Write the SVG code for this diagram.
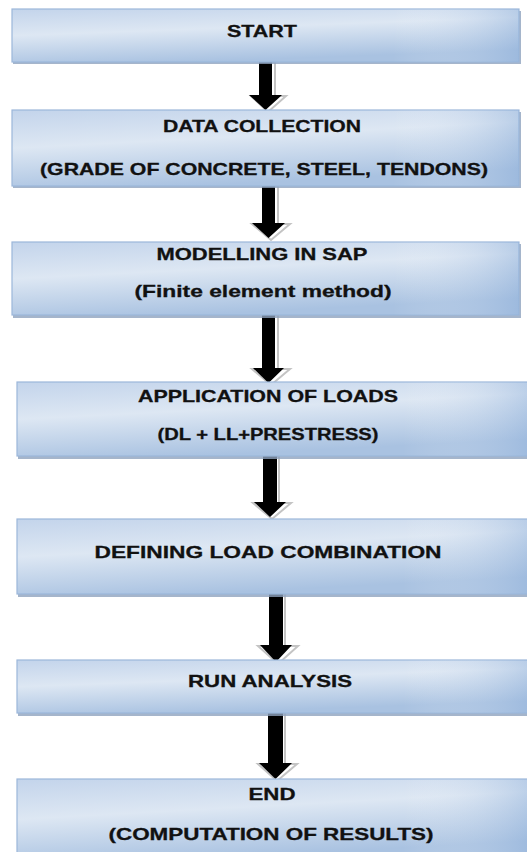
<svg xmlns="http://www.w3.org/2000/svg" width="527" height="852" viewBox="0 0 527 852">
<defs>
<linearGradient id="boxfill" x1="0" y1="0" x2="0.35" y2="1">
<stop offset="0" stop-color="#c3d4eb"/>
<stop offset="0.45" stop-color="#dde7f3"/>
<stop offset="1" stop-color="#a9c2e1"/>
</linearGradient>
<linearGradient id="sheen" x1="0" y1="0" x2="1" y2="0">
<stop offset="0" stop-color="#ffffff" stop-opacity="0"/>
<stop offset="0.75" stop-color="#ffffff" stop-opacity="0"/>
<stop offset="1" stop-color="#8fb0da" stop-opacity="0.45"/>
</linearGradient>
</defs>
<style>
.shadow{fill:#8ea3be;opacity:0.8}
.box{fill:url(#boxfill);stroke:#9cb7da;stroke-width:1.2}
.sheen{fill:url(#sheen)}
.t{font-family:"Liberation Sans",Arial,sans-serif;font-weight:bold;font-size:16.5px;fill:#111111;stroke:#111111;stroke-width:0.3;text-anchor:middle}
.aout{fill:#ffffff;stroke:#c4c4c4;stroke-width:2}
.arr{fill:#000000}
</style>
<rect width="527" height="852" fill="#ffffff"/>

<g id="connectors">
<g id="a1">
<path class="aout" d="M261,62 L275,62 L275,96 L286,96 L268,112 L251,96 L261,96 Z"/>
<path class="arr" d="M259,62 L272,62 L272,95 L282,95 L265.5,110 L249,95 L259,95 Z"/>
</g>
<g id="a2">
<path class="aout" d="M264,186 L278,186 L278,224 L290,224 L271,240 L252,224 L264,224 Z"/>
<path class="arr" d="M262,186 L275,186 L275,223 L285,223 L268.5,238 L252,223 L262,223 Z"/>
</g>
<g id="a3">
<path class="aout" d="M264,315 L278,315 L278,369 L290,369 L271,385 L252,369 L264,369 Z"/>
<path class="arr" d="M262,315 L275,315 L275,368 L284,368 L268.5,383 L253,368 L262,368 Z"/>
</g>
<g id="a4">
<path class="aout" d="M265,456 L279,456 L279,503 L291,503 L272,519 L253,503 L265,503 Z"/>
<path class="arr" d="M263,456 L277,456 L277,502 L286,502 L270,517 L254,502 L263,502 Z"/>
</g>
<g id="a5">
<path class="aout" d="M271,594 L285,594 L285,646 L298,646 L278,664 L258,646 L271,646 Z"/>
<path class="arr" d="M269,594 L283,594 L283,645 L292,645 L276,662 L260,645 L269,645 Z"/>
</g>
<g id="a6">
<path class="aout" d="M270,713 L285,713 L285,764 L297,764 L277,781 L258,764 L270,764 Z"/>
<path class="arr" d="M268,713 L283,713 L283,763 L292,763 L275.5,779 L259,763 L268,763 Z"/>
</g>
</g>

<g id="n1">
<rect class="shadow" x="13" y="11" width="508" height="53"/>
<rect class="box" x="12" y="9" width="507" height="53"/>
<rect class="sheen" x="12" y="9" width="507" height="53"/>
<text class="t" x="262" y="37" textLength="70" lengthAdjust="spacingAndGlyphs">START</text>
</g>

<g id="n2">
<rect class="shadow" x="13" y="112" width="508" height="76"/>
<rect class="box" x="12" y="110" width="507" height="76"/>
<rect class="sheen" x="12" y="110" width="507" height="76"/>
<text class="t" x="262" y="132" textLength="198" lengthAdjust="spacingAndGlyphs">DATA COLLECTION</text>
<text class="t" x="264" y="175" textLength="448" lengthAdjust="spacingAndGlyphs">(GRADE OF CONCRETE, STEEL, TENDONS)</text>
</g>

<g id="n3">
<rect class="shadow" x="13" y="244" width="508" height="74"/>
<rect class="box" x="12" y="242" width="507" height="73"/>
<rect class="sheen" x="12" y="242" width="507" height="73"/>
<text class="t" x="262" y="260" textLength="211" lengthAdjust="spacingAndGlyphs">MODELLING IN SAP</text>
<text class="t" x="263" y="297" textLength="257" lengthAdjust="spacingAndGlyphs">(Finite element method)</text>
</g>

<g id="n4">
<rect class="shadow" x="18" y="384" width="512" height="75"/>
<rect class="box" x="17" y="382" width="514" height="74"/>
<rect class="sheen" x="17" y="382" width="514" height="74"/>
<text class="t" x="268" y="402" textLength="260" lengthAdjust="spacingAndGlyphs">APPLICATION OF LOADS</text>
<text class="t" x="268" y="440" textLength="221" lengthAdjust="spacingAndGlyphs">(DL + LL+PRESTRESS)</text>
</g>

<g id="n5">
<rect class="shadow" x="18" y="521" width="512" height="76"/>
<rect class="box" x="17" y="519" width="514" height="75"/>
<rect class="sheen" x="17" y="519" width="514" height="75"/>
<text class="t" x="268" y="558" textLength="347" lengthAdjust="spacingAndGlyphs">DEFINING LOAD COMBINATION</text>
</g>

<g id="n6">
<rect class="shadow" x="18" y="662" width="512" height="54"/>
<rect class="box" x="17" y="660" width="514" height="53"/>
<rect class="sheen" x="17" y="660" width="514" height="53"/>
<text class="t" x="270" y="687" textLength="164" lengthAdjust="spacingAndGlyphs">RUN ANALYSIS</text>
</g>

<g id="n7">
<rect class="box" x="17" y="779" width="514" height="80"/>
<rect class="sheen" x="17" y="779" width="514" height="80"/>
<text class="t" x="272" y="800" textLength="47" lengthAdjust="spacingAndGlyphs">END</text>
<text class="t" x="271" y="840" textLength="325" lengthAdjust="spacingAndGlyphs">(COMPUTATION OF RESULTS)</text>
</g>
</svg>
